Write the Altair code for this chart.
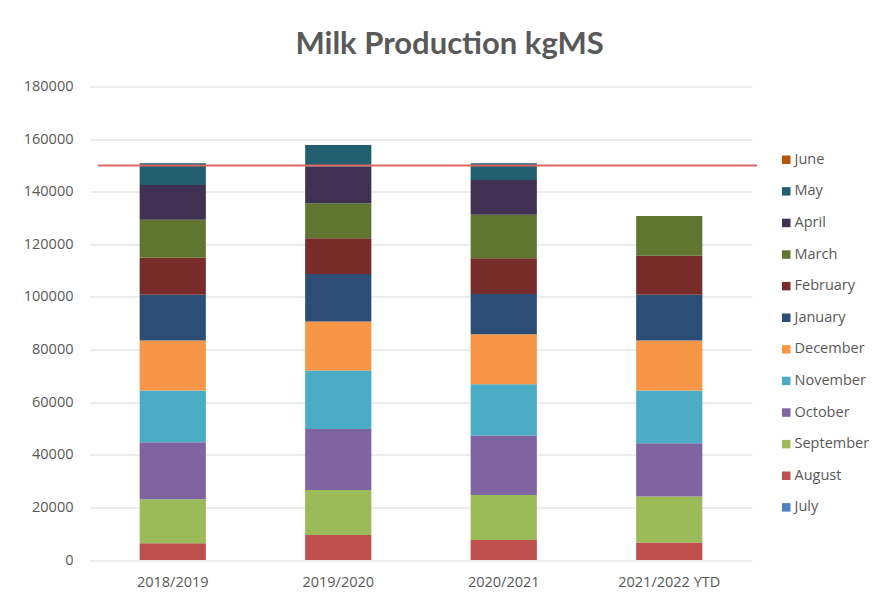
import altair as alt
import pandas as pd

seasons = ["2018/2019", "2019/2020", "2020/2021", "2021/2022 YTD"]
months = ["July", "August", "September", "October", "November", "December",
          "January", "February", "March", "April", "May", "June"]

# kgMS per month for each season (None = not yet produced)
july = [0, 0, 0, 0]
august = [6400, 9500, 7600, 6700]
september = [16700, 17100, 17100, 17400]
october = [21700, 23200, 22600, 20300]
november = [19600, 22200, 19500, 20000]
december = [19000, 18700, 19000, 19000]
january = [17400, 18000, 15300, 17400]
february = [14100, 13600, 13600, 14900]
march = [14400, 13300, 16500, 15100]
april = [13300, 13900, 13300, None]
may = [8200, 8300, 6300, None]
june = [0, 0, 0, None]

target = [150000]

colors = ["#4F81BD", "#C0504D", "#9BBB59", "#8064A2", "#4BACC6", "#F79646",
          "#2C4D75", "#772C2A", "#5F7530", "#403152", "#215F6E", "#B65708"]

series = [july, august, september, october, november, december,
          january, february, march, april, may, june]

rows = []
for mi, (m, vals) in enumerate(zip(months, series)):
    for s, v in zip(seasons, vals):
        if v:
            rows.append({"season": s, "month": m, "order": mi, "kgms": v})
df = pd.DataFrame(rows)

TITLE_FONT = "Lato"
FONT = "Open Sans"
GREY = "#595959"

bars = alt.Chart(df).mark_bar().encode(
    x=alt.X("season:N", sort=seasons, title=None,
            scale=alt.Scale(paddingInner=0.6, paddingOuter=0.3),
            axis=alt.Axis(labelAngle=0, domain=False, ticks=False,
                          labelPadding=15, labelFontSize=14.5,
                          labelColor=GREY, labelFont=FONT)),
    y=alt.Y("kgms:Q", stack="zero", title=None,
            scale=alt.Scale(domain=[0, 180000], nice=False),
            axis=alt.Axis(values=list(range(0, 180001, 20000)), format="d",
                          domain=False, ticks=False, labelPadding=17,
                          labelFontSize=14.5, labelColor=GREY, labelFont=FONT,
                          gridColor="#D9D9D9", gridWidth=1)),
    color=alt.Color("month:N",
                    scale=alt.Scale(domain=months[::-1], range=colors[::-1]),
                    legend=alt.Legend(title=None, orient="none",
                                      legendX=689, legendY=66,
                                      symbolType="square", symbolSize=72,
                                      symbolStrokeWidth=0,
                                      labelFontSize=14.5, labelColor=GREY,
                                      labelFont=FONT, rowPadding=16.6,
                                      padding=0, labelOffset=1)),
    order=alt.Order("order:Q", sort="ascending"),
)

target_line = alt.Chart(pd.DataFrame({"target": target})).mark_rule(
    color="#E06666", strokeWidth=2
).encode(
    y="target:Q",
    x=alt.value(8),
    x2=alt.value(667),
)

chart = alt.layer(bars, target_line).properties(
    width=662,
    height=473.5,
    background="white",
    title=alt.TitleParams("Milk Production kgMS", fontSize=31,
                          font=TITLE_FONT, fontWeight="bold", color=GREY,
                          anchor="middle", frame="bounds", offset=18, dx=3),
    autosize=alt.AutoSizeParams(type="none"),
    padding={"left": 90, "top": 86.5, "right": 125, "bottom": 40},
).configure_view(stroke=None)

chart.save("out.html", embed_options={"renderer": "svg", "actions": False})
